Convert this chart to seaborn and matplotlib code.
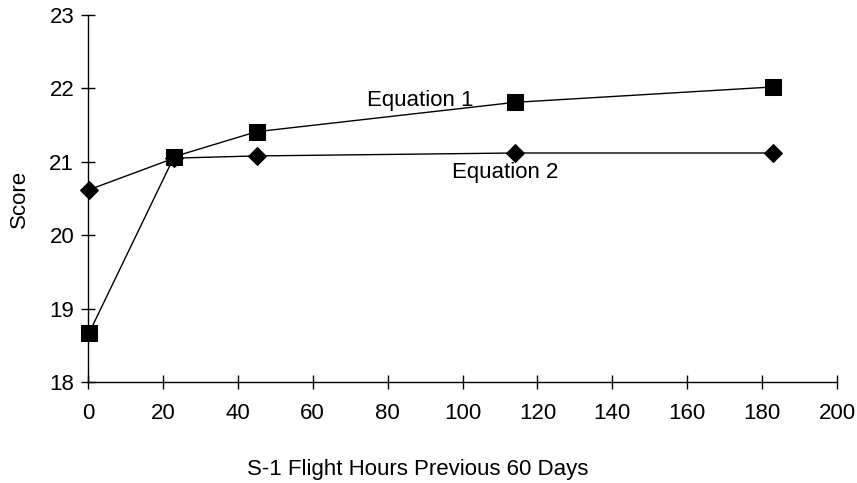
import matplotlib
matplotlib.use("Agg")
import matplotlib.pyplot as plt
import pandas as pd
import seaborn as sns

# Values
hours = [0.3, 23, 45, 114, 183]
eq1_scores = [18.67, 21.07, 21.41, 21.81, 22.02]
eq2_scores = [20.62, 21.05, 21.08, 21.12, 21.12]
x_ticks = [0, 20, 40, 60, 80, 100, 120, 140, 160, 180, 200]
y_ticks = [18, 19, 20, 21, 22, 23]

df = pd.DataFrame({
    "hours": hours * 2,
    "score": eq1_scores + eq2_scores,
    "equation": ["Equation 1"] * len(hours) + ["Equation 2"] * len(hours),
})

sns.set_style("ticks")
plt.rcParams["font.family"] = ["Liberation Sans", "DejaVu Sans"]
plt.rcParams["text.color"] = "black"
plt.rcParams["axes.labelcolor"] = "black"

fig = plt.figure(figsize=(8.57, 4.83), dpi=100)
ax = fig.add_axes([0.1027, 0.209, 0.874, 0.760])

sns.lineplot(data=df, x="hours", y="score", hue="equation", style="equation",
             markers={"Equation 1": "s", "Equation 2": "D"}, dashes=False,
             palette={"Equation 1": "black", "Equation 2": "black"},
             markersize=11, linewidth=1, markeredgecolor="black",
             legend=False, ax=ax, clip_on=False)
# diamonds a bit smaller than the squares
for line in ax.lines:
    if line.get_marker() == "D":
        line.set_markersize(9)

ax.set_xlim(0, 200)
ax.set_ylim(18, 23)
ax.set_xticks(x_ticks)
ax.set_yticks(y_ticks)
sns.despine(ax=ax)
for s in ["left", "bottom"]:
    ax.spines[s].set_linewidth(1)
    ax.spines[s].set_color("black")
ax.tick_params(direction="inout", length=10, width=1, labelsize=16,
               colors="black", labelcolor="black")
ax.tick_params(axis="x", pad=10)
ax.tick_params(axis="y", pad=5)

ax.set_xlabel("S-1 Flight Hours Previous 60 Days", fontsize=16, labelpad=18)
ax.xaxis.set_label_coords(0.44, -0.21)
ax.set_ylabel("Score", fontsize=16, labelpad=14)

ax.text(88.7, 21.84, "Equation 1", fontsize=16, ha="center", va="center")
ax.text(111.3, 20.86, "Equation 2", fontsize=16, ha="center", va="center")

fig.savefig("out.png", dpi=100)
